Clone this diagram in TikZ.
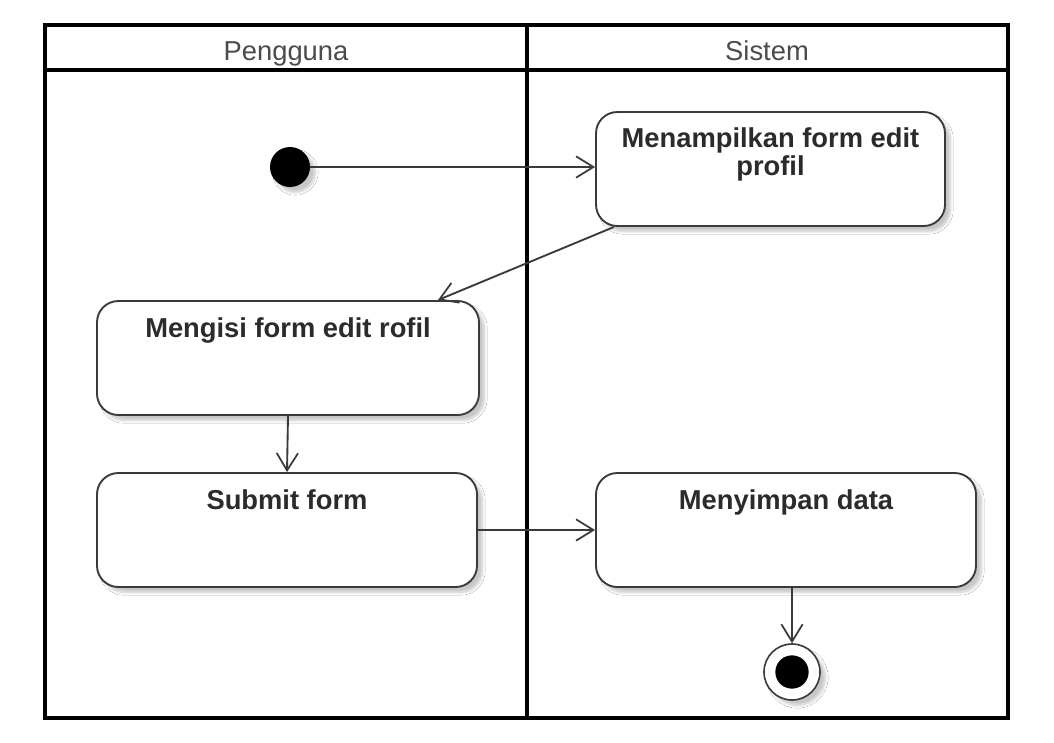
\documentclass[tikz,border=0pt]{standalone}
\usepackage{fontspec}
\setmainfont{Liberation Sans}
\usetikzlibrary{arrows.meta,calc,shadows.blur}
\definecolor{ink}{HTML}{2B2B2B}
\definecolor{linec}{HTML}{3A3A3A}
\begin{document}
\begin{tikzpicture}[x=0.75pt,y=-0.75pt,
  frame/.style={line width=2.4pt,draw=black},
  header/.style={font=\fontsize{20.5}{22}\selectfont,text=ink!85,anchor=base},
  shad/.style={blur shadow={shadow xshift=4pt,shadow yshift=-4pt,shadow blur steps=6,shadow opacity=22}},
  actbox/.style={draw=linec,line width=1.4pt,rounded corners=16pt,fill=white,shad,inner sep=0pt},
  acttext/.style={font=\bfseries\fontsize{20.5}{21}\selectfont,text=ink,align=center},
  arr/.style={draw=linec,line width=1.4pt,-{Straight Barb[length=13pt,width=16pt,line width=1.3pt]}},
  startnode/.style={circle,fill=black,minimum size=30pt,inner sep=0pt,shad},
  endouter/.style={circle,draw=linec,line width=1.2pt,fill=white,minimum size=42pt,inner sep=0pt,shad},
  endinner/.style={circle,fill=black,minimum size=25pt,inner sep=0pt}
]
\useasboundingbox (0,0) rectangle (1054,743);
\fill[white] (0,0) rectangle (1054,743);

% swimlane frame
\draw[frame] (45,25) rectangle (1008,718);
\draw[frame] (45,70) -- (1008,70);
\draw[frame] (527,25) -- (527,718);
\node[header] (h1) at (286,60) {Pengguna};
\node[header] (h2) at (767,60) {Sistem};

% nodes
\node[startnode] (start) at (290,167) {};
\node[actbox,minimum width=261.75pt,minimum height=85.5pt] (b1) at (770.5,169) {};
\node[acttext,anchor=north] (t1) at ($(b1.north)+(0,12)$) {Menampilkan form edit\\profil};
\node[actbox,minimum width=286.5pt,minimum height=85.5pt] (b2) at (288,358) {};
\node[acttext,anchor=north] (t2) at ($(b2.north)+(0,13)$) {Mengisi form edit rofil};
\node[actbox,minimum width=285pt,minimum height=85.5pt] (b3) at (287,530) {};
\node[acttext,anchor=north] (t3) at ($(b3.north)+(0,13)$) {Submit form};
\node[actbox,minimum width=285pt,minimum height=85.5pt] (b4) at (786,530) {};
\node[acttext,anchor=north] (t4) at ($(b4.north)+(0,13)$) {Menyimpan data};
\node[endouter] (end) at (792,672) {};
\node[endinner] (endc) at (end) {};

% connectors
\draw[arr] (start) -- (b1.west |- start);
\draw[arr] ($(b1.south west)+(19,0)$) -- ($(b2.north east)+(-42,0)$);
\draw[arr] (b2.south) -- (b3.north);
\draw[arr] (b3.east) -- (b4.west);
\draw[arr] (b4.south -| end) -- (end.north);
\end{tikzpicture}
\end{document}
